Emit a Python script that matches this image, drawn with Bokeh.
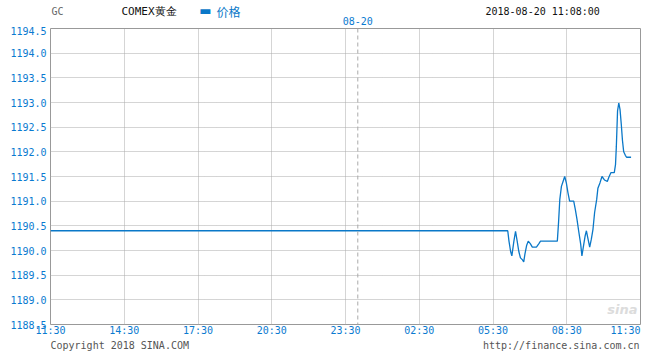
from bokeh.plotting import figure
from bokeh.layouts import column
from bokeh.models import Span, Label, FixedTicker, NumeralTickFormatter, Range1d
from bokeh.embed import file_html
from bokeh.resources import INLINE

# ---- data ----
times = ["11:30", "06:06", "06:09", "06:13", "06:16", "06:21", "06:25", "06:29",
         "06:33", "06:37", "06:42", "06:45", "06:48", "06:52", "06:56", "07:01",
         "07:06", "07:16", "07:22", "07:26", "08:07", "08:10", "08:13", "08:17",
         "08:21", "08:25", "08:29", "08:33", "08:37", "08:47", "08:51", "08:55",
         "08:59", "09:04", "09:07", "09:11", "09:15", "09:18", "09:21", "09:26",
         "09:30", "09:34", "09:38", "09:43", "09:46", "09:51", "09:56", "10:02",
         "10:09", "10:13", "10:18", "10:26", "10:29", "10:31", "10:34", "10:37",
         "10:40", "10:43", "10:46", "10:49", "10:53", "10:56", "11:07"]
prices = [1190.40, 1190.40, 1190.19, 1189.98, 1189.89, 1190.19, 1190.39, 1190.19,
          1189.98, 1189.85, 1189.81, 1189.77, 1189.93, 1190.10, 1190.19, 1190.14,
          1190.07, 1190.07, 1190.14, 1190.19, 1190.19, 1190.57, 1191.03, 1191.30,
          1191.40, 1191.50, 1191.37, 1191.17, 1191.00, 1191.00, 1190.83, 1190.63,
          1190.40, 1190.13, 1189.89, 1190.10, 1190.30, 1190.40, 1190.27, 1190.07,
          1190.23, 1190.43, 1190.77, 1191.03, 1191.26, 1191.37, 1191.50, 1191.43,
          1191.40, 1191.49, 1191.58, 1191.58, 1191.74, 1192.10, 1192.83, 1192.99,
          1192.86, 1192.57, 1192.23, 1192.00, 1191.93, 1191.89, 1191.89]
x_tick_labels = ["11:30", "14:30", "17:30", "20:30", "23:30", "02:30", "05:30", "08:30", "11:30"]
x_tick_hours = [0, 3, 6, 9, 12, 15, 18, 21, 24]
y_ticks = [1188.5, 1189.0, 1189.5, 1190.0, 1190.5, 1191.0, 1191.5,
           1192.0, 1192.5, 1193.0, 1193.5, 1194.0, 1194.5]
start_clock = "11:30"
day_mark = "00:00"
day_label = "08-20"
symbol = "GC"
name = "COMEX黄金"
series_name = "价格"
stamp = "2018-08-20 11:08:00"
copyright_text = "Copyright 2018 SINA.COM"
url_text = "http://finance.sina.com.cn"


def to_hours(t):
    h, m = map(int, t.split(":"))
    sh, sm = map(int, start_clock.split(":"))
    v = (h + m / 60) - (sh + sm / 60)
    if v < 0:
        v += 24
    return v


xs = [to_hours(t) for t in times]

MONO = "DejaVu Sans Mono"
BLUE = "#0a78c8"
LABEL_BLUE = "#0a7ad0"
W = 652
FRAME_W = 590
LEFT = 50
RIGHT = W - LEFT - FRAME_W

x_range = Range1d(0, 24)

# ---------- header strip ----------
hdr = figure(width=W, height=26, x_range=x_range, y_range=Range1d(0, 1),
             output_backend="svg", toolbar_location=None,
             x_axis_type=None, y_axis_type=None,
             min_border_left=LEFT, min_border_right=RIGHT,
             min_border_top=0, min_border_bottom=0)
hdr.outline_line_color = None
hdr.background_fill_color = "white"
hdr.border_fill_color = "white"


def lab(fig, text, x, y, color, size="10px", align="left", font=MONO, style="normal",
        x_units="screen", baseline="middle"):
    fig.add_layout(Label(x=x, y=y, x_units=x_units, y_units="screen", text=text,
                         text_font=font, text_font_size=size, text_color=color,
                         text_align=align, text_baseline=baseline, text_font_style=style))


lab(hdr, symbol, 1, 15, "#666666", size="10px")
lab(hdr, name, 71, 15, "#111111", size="11px")
lab(hdr, "▬", 155, 16, BLUE, size="13px", align="center", font="DejaVu Sans")
lab(hdr, series_name, 166, 15, BLUE, size="12px", font="Noto Sans CJK SC")
lab(hdr, stamp, 435, 15, "#111111")
lab(hdr, day_label, to_hours(day_mark), 6, LABEL_BLUE, align="center", x_units="data")

# ---------- main chart ----------
p_main = figure(width=W, height=312, output_backend="svg", toolbar_location=None,
                x_range=x_range, y_range=Range1d(1188.5, 1194.5),
                min_border_left=LEFT, min_border_right=RIGHT,
                min_border_top=2, min_border_bottom=12)
p_main.background_fill_color = "white"
p_main.border_fill_color = "white"
p_main.outline_line_color = "#999999"
p_main.outline_line_width = 1

p_main.line(xs, prices, line_color=BLUE, line_width=1.3)

# last label is pulled left so it stays inside the picture (as in the reference)
shift = 15 * 24 / FRAME_W
label_pos = x_tick_hours[:-1] + [x_tick_hours[-1] - shift]
p_main.xaxis.ticker = FixedTicker(ticks=label_pos)
p_main.xaxis.major_label_overrides = {t: l for t, l in zip(label_pos, x_tick_labels)}
p_main.xgrid.ticker = FixedTicker(ticks=x_tick_hours[1:-1])
p_main.yaxis.ticker = FixedTicker(ticks=y_ticks)
p_main.yaxis.formatter = NumeralTickFormatter(format="0.0")
for ax in (p_main.xaxis, p_main.yaxis):
    ax.axis_line_color = None
    ax.major_tick_line_color = None
    ax.minor_tick_line_color = None
    ax.major_tick_out = 0
    ax.major_tick_in = 0
    ax.major_label_text_font = MONO
    ax.major_label_text_font_size = "10px"
    ax.major_label_text_color = LABEL_BLUE
p_main.xaxis.major_label_standoff = 0
p_main.yaxis.major_label_standoff = 4

for g in (p_main.xgrid, p_main.ygrid):
    g.grid_line_color = "#aaaaaa"
    g.grid_line_dash = "1 1"
    g.grid_line_width = 1

p_main.add_layout(Span(location=to_hours(day_mark), dimension="height",
                       line_color="#aaaaaa", line_dash="4 3", line_width=1))

lab(p_main, "sina", 587, 15, "#dcdcdc", size="13px", align="right",
    font="DejaVu Sans", style="bold italic")

# ---------- footer strip (frame is aligned with the chart frame by the column) ----------
ftr = figure(width=W, height=14, output_backend="svg", toolbar_location=None,
             x_range=Range1d(0, 1), y_range=Range1d(0, 1),
             x_axis_type=None, y_axis_type=None,
             min_border_left=LEFT, min_border_right=RIGHT,
             min_border_top=0, min_border_bottom=0)
ftr.outline_line_color = None
ftr.background_fill_color = "white"
ftr.border_fill_color = "white"
lab(ftr, copyright_text, 0, 7, "#555555")
lab(ftr, url_text, FRAME_W - 1, 7, "#555555", align="right")

p = column(hdr, p_main, ftr, spacing=0)

open("out.html", "w").write(file_html(p, INLINE))
